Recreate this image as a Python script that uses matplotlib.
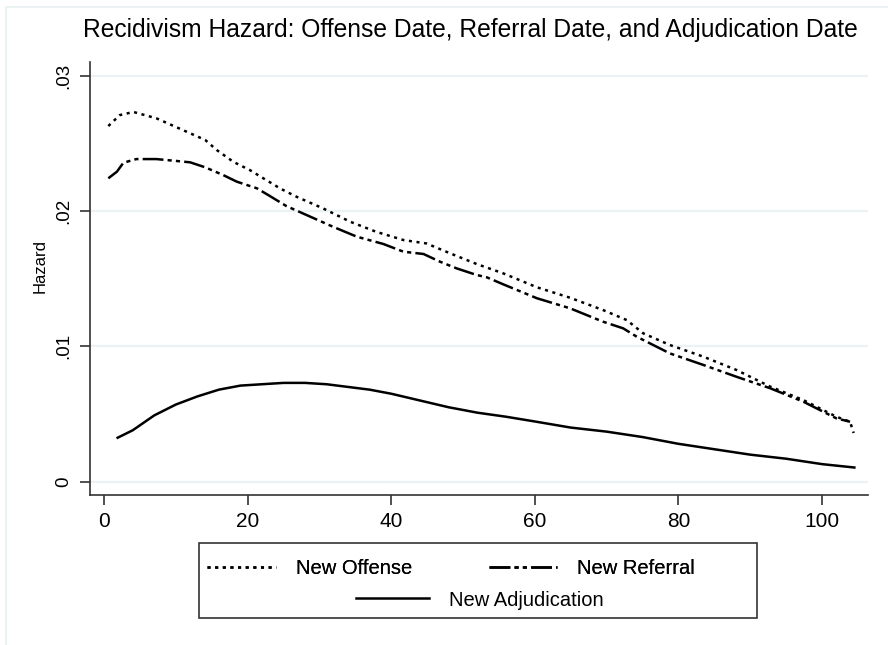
import numpy as np
import matplotlib
matplotlib.use("Agg")
import matplotlib.pyplot as plt
from matplotlib.patches import Rectangle

plt.rcParams['font.family'] = ['Liberation Sans', 'DejaVu Sans']
plt.rcParams['lines.scale_dashes'] = False

# hazard curves
week_off = np.array([0.6, 2.2, 4.1, 7.3, 11.0, 14.1, 15.7, 18.0, 20.3, 22.2, 24.5, 26.8,
                     30.5, 34.3, 37.9, 41.7, 44.9, 48.2, 51.9, 55.6, 60.3, 64.9, 69.5,
                     72.8, 75.1, 78.8, 83.5, 88.1, 92.8, 97.4, 102.0, 103.9, 104.4])
haz_off = np.array([0.02627, 0.02708, 0.02731, 0.02684, 0.02597, 0.02524, 0.02450, 0.02363,
                    0.02302, 0.02241, 0.02167, 0.02105, 0.02019, 0.01920, 0.01846, 0.01785,
                    0.01760, 0.01687, 0.01608, 0.01539, 0.01436, 0.01359, 0.01268, 0.01194,
                    0.01096, 0.01010, 0.00923, 0.00825, 0.00702, 0.00603, 0.00480, 0.00443,
                    0.00360])

week_ref = np.array([0.6, 1.8, 2.7, 4.5, 7.3, 10.1, 12.0, 14.1, 16.6, 18.5, 21.3, 23.1,
                     25.4, 28.2, 31.9, 35.2, 38.9, 41.7, 44.5, 46.8, 49.1, 51.9, 53.3,
                     55.6, 60.3, 64.9, 69.5, 72.3, 74.2, 78.8, 83.5, 88.1, 92.8, 97.4,
                     102.0, 103.9])
haz_ref = np.array([0.02241, 0.02290, 0.02356, 0.02383, 0.02383, 0.02369, 0.02359, 0.02322,
                    0.02265, 0.02216, 0.02167, 0.02110, 0.02036, 0.01970, 0.01883, 0.01810,
                    0.01756, 0.01699, 0.01682, 0.01625, 0.01576, 0.01527, 0.01510, 0.01458,
                    0.01355, 0.01281, 0.01182, 0.01133, 0.01071, 0.00948, 0.00862, 0.00775,
                    0.00690, 0.00591, 0.00468, 0.00443])

week_adj = np.array([1.9, 4, 7, 10, 13, 16, 19, 22, 25, 28, 31, 34, 37, 40, 44, 48, 52,
                     56, 60, 65, 70, 75, 80, 85, 90, 95, 100, 104.5])
haz_adj = np.array([0.00325, 0.0038, 0.0049, 0.0057, 0.0063, 0.0068, 0.0071, 0.0072,
                    0.0073, 0.0073, 0.0072, 0.0070, 0.0068, 0.0065, 0.0060, 0.0055,
                    0.0051, 0.0048, 0.00445, 0.0040, 0.0037, 0.0033, 0.0028, 0.0024,
                    0.0020, 0.0017, 0.0013, 0.00105])

xticks = [0, 20, 40, 60, 80, 100]
yticks = [0, 0.01, 0.02, 0.03]
ytick_labels = ['0', '.01', '.02', '.03']

W, H = 888, 645
fig = plt.figure(figsize=(W / 100, H / 100), dpi=100)
ax = fig.add_axes([90 / W, 1 - 495 / H, (868 - 90) / W, (495 - 62) / H])

grid_col = '#eaf2f3'
dark = '#333333'

# outer graph region border
fig.patches.append(Rectangle((6 / W, -0.1), 1.2, 1.1 - 7 / H, transform=fig.transFigure,
                             fill=False, edgecolor=grid_col, lw=1.5))

dot = (0, (2.2, 3.3))
dashdot = (0, (15, 3, 3, 3, 3, 3))

ax.plot(week_off, haz_off, color='black', lw=1.8, linestyle=dot, label='New Offense')
ax.plot(week_ref, haz_ref, color='black', lw=1.8, linestyle=dashdot, label='New Referral')
ax.plot(week_adj, haz_adj, color='black', lw=1.8, label='New Adjudication')

ax.set_xlim(-1.95, 106.4)
ax.set_ylim(-0.00098, 0.031)
ax.set_xticks(xticks)
ax.set_yticks(yticks)
ax.set_yticklabels(ytick_labels, rotation=90, va='center')
ax.tick_params(axis='both', length=7, width=1.2, color=dark)
ax.tick_params(axis='x', labelsize=15, pad=5)
ax.tick_params(axis='y', labelsize=13.5, pad=6)
for y in yticks:
    ax.axhline(y, color=grid_col, lw=1.6, zorder=0)

for s in ['top', 'right']:
    ax.spines[s].set_visible(False)
for s in ['left', 'bottom']:
    ax.spines[s].set_color(dark)
    ax.spines[s].set_linewidth(1.2)

ax.set_ylabel('Hazard', fontsize=12)
ax.yaxis.set_label_coords(-0.055, 0.529)

fig.text(470 / W, 1 - 30 / H,
         'Recidivism Hazard: Offense Date, Referral Date, and Adjudication Date',
         ha='center', va='center', fontsize=17.7)

# legend: two entries on the first row, one centred below
h = ax.get_lines()
leg1 = fig.legend(h[:2], [l.get_label() for l in h[:2]], ncol=2, loc='center',
                  bbox_to_anchor=(451 / W, 1 - 569 / H), frameon=False, fontsize=14.5,
                  handlelength=3.4, handletextpad=1.0, columnspacing=3.8,
                  borderpad=0, borderaxespad=0)
leg2 = fig.legend(h[2:], [h[2].get_label()], loc='center',
                  bbox_to_anchor=(480 / W, 1 - 600 / H), frameon=False, fontsize=14.5,
                  handlelength=3.6, handletextpad=1.0, borderpad=0, borderaxespad=0)
fig.add_artist(leg1)
fig.patches.append(Rectangle((199 / W, 1 - 618 / H), 558 / W, 75 / H,
                             transform=fig.transFigure, fill=False,
                             edgecolor=dark, lw=1.2))

fig.savefig('out.png', dpi=100, facecolor='white')
